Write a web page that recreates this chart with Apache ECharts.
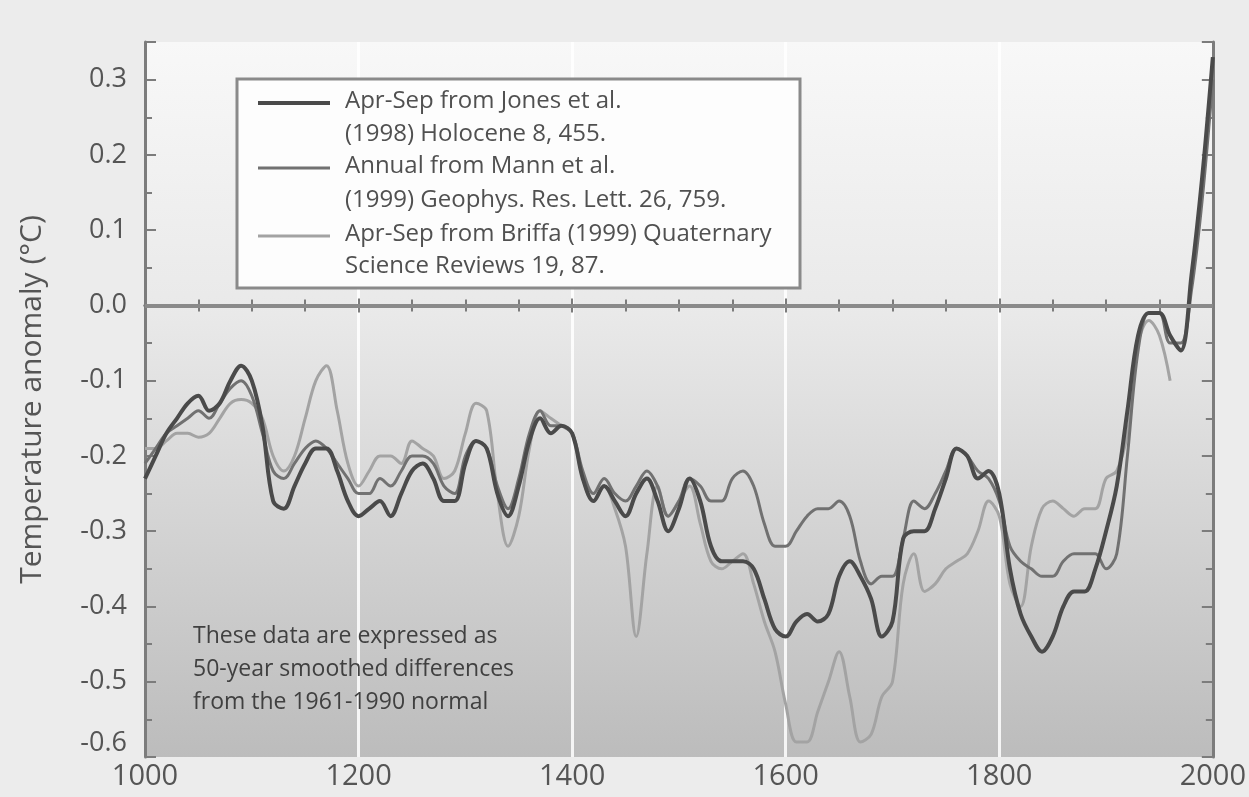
<!DOCTYPE html>
<html>
<head>
<meta charset="utf-8">
<title>Temperature anomaly reconstructions</title>
<script src="https://cdn.jsdelivr.net/npm/echarts@6/dist/echarts.min.js"></script>
<style>
  html, body { margin: 0; padding: 0; background: #ececec; }
  #main { width: 1249px; height: 797px; }
</style>
</head>
<body>
<div id="main"></div>
<script>
// years, every 10 years
const years = [
  1000, 1010, 1020, 1030, 1040, 1050, 1060, 1070, 1080, 1090,
  1100, 1110, 1120, 1130, 1140, 1150, 1160, 1170, 1180, 1190,
  1200, 1210, 1220, 1230, 1240, 1250, 1260, 1270, 1280, 1290,
  1300, 1310, 1320, 1330, 1340, 1350, 1360, 1370, 1380, 1390,
  1400, 1410, 1420, 1430, 1440, 1450, 1460, 1470, 1480, 1490,
  1500, 1510, 1520, 1530, 1540, 1550, 1560, 1570, 1580, 1590,
  1600, 1610, 1620, 1630, 1640, 1650, 1660, 1670, 1680, 1690,
  1700, 1710, 1720, 1730, 1740, 1750, 1760, 1770, 1780, 1790,
  1800, 1810, 1820, 1830, 1840, 1850, 1860, 1870, 1880, 1890,
  1900, 1910, 1920, 1930, 1940, 1950, 1960, 1970, 1980, 1990,
  2000
];

// Apr-Sep, Jones et al. (1998)
const jones = [
  -0.23, -0.20, -0.17, -0.15, -0.13, -0.12, -0.14, -0.13, -0.10, -0.08,
  -0.10, -0.16, -0.26, -0.27, -0.24, -0.21, -0.19, -0.19, -0.22, -0.26,
  -0.28, -0.27, -0.26, -0.28, -0.25, -0.22, -0.21, -0.23, -0.26, -0.26,
  -0.21, -0.18, -0.19, -0.25, -0.28, -0.24, -0.18, -0.15, -0.17, -0.16,
  -0.17, -0.23, -0.26, -0.24, -0.26, -0.28, -0.25, -0.23, -0.26, -0.30,
  -0.27, -0.23, -0.26, -0.32, -0.34, -0.34, -0.34, -0.35, -0.39, -0.43,
  -0.44, -0.42, -0.41, -0.42, -0.41, -0.36, -0.34, -0.36, -0.39, -0.44,
  -0.42, -0.31, -0.30, -0.30, -0.27, -0.23, -0.19, -0.20, -0.23, -0.22,
  -0.25, -0.35, -0.41, -0.44, -0.46, -0.44, -0.40, -0.38, -0.38, -0.35,
  -0.30, -0.24, -0.14, -0.04, -0.01, -0.01, -0.04, -0.06, 0.04, 0.17,
  0.33
];

// Annual, Mann et al. (1999)
const mann = [
  -0.21, -0.19, -0.17, -0.16, -0.15, -0.14, -0.15, -0.13, -0.11, -0.10,
  -0.12, -0.17, -0.22, -0.23, -0.21, -0.19, -0.18, -0.19, -0.21, -0.23,
  -0.25, -0.25, -0.23, -0.24, -0.22, -0.20, -0.20, -0.21, -0.24, -0.25,
  -0.20, -0.18, -0.19, -0.24, -0.27, -0.23, -0.17, -0.14, -0.16, -0.16,
  -0.17, -0.22, -0.25, -0.23, -0.25, -0.26, -0.24, -0.22, -0.24, -0.28,
  -0.26, -0.23, -0.24, -0.26, -0.26, -0.23, -0.22, -0.24, -0.29, -0.32,
  -0.32, -0.30, -0.28, -0.27, -0.27, -0.26, -0.28, -0.34, -0.37, -0.36,
  -0.36, -0.31, -0.26, -0.27, -0.25, -0.22, -0.19, -0.20, -0.22, -0.23,
  -0.26, -0.32, -0.34, -0.35, -0.36, -0.36, -0.34, -0.33, -0.33, -0.33,
  -0.35, -0.33, -0.20, -0.06, -0.01, -0.01, -0.05, -0.05, 0.02, 0.14,
  0.30
];

// Apr-Sep, Briffa (1999)
const briffa = [
  -0.19, -0.19, -0.18, -0.17, -0.17, -0.175, -0.17, -0.15, -0.13, -0.125,
  -0.13, -0.15, -0.20, -0.22, -0.20, -0.15, -0.10, -0.08, -0.14, -0.21,
  -0.24, -0.22, -0.20, -0.20, -0.21, -0.18, -0.19, -0.20, -0.23, -0.22,
  -0.17, -0.13, -0.14, -0.25, -0.32, -0.28, -0.19, -0.14, -0.15, -0.16,
  -0.17, -0.23, -0.26, -0.24, -0.27, -0.32, -0.44, -0.33, -0.24, -0.28,
  -0.26, -0.24, -0.29, -0.34, -0.35, -0.34, -0.33, -0.37, -0.42, -0.46,
  -0.53, -0.58, -0.58, -0.54, -0.50, -0.46, -0.52, -0.58, -0.57, -0.52,
  -0.50, -0.37, -0.33, -0.38, -0.37, -0.35, -0.34, -0.33, -0.30, -0.26,
  -0.28, -0.37, -0.40, -0.32, -0.27, -0.26, -0.27, -0.28, -0.27, -0.27,
  -0.23, -0.22, -0.17, -0.05, -0.02, -0.04, -0.10, null, null, null,
  null
];

const xTicks = [1000, 1200, 1400, 1600, 1800, 2000];
const yTicks = [-0.6, -0.5, -0.4, -0.3, -0.2, -0.1, 0.0, 0.1, 0.2, 0.3];

const legendLines = [
  'Apr-Sep from Jones et al.',
  '(1998) Holocene 8, 455.',
  'Annual from Mann et al.',
  '(1999) Geophys. Res. Lett. 26, 759.',
  'Apr-Sep from Briffa (1999) Quaternary',
  'Science Reviews 19, 87.'
];
const noteLines = [
  'These data are expressed as',
  '50-year smoothed differences',
  'from the 1961-1990 normal'
];

const FONT = '"Open Sans", "Noto Sans", sans-serif';
const colors = { jones: '#4a4a4a', mann: '#717171', briffa: '#a3a3a3' };

function pairs(vals) {
  return years.map(function (y, i) { return [y, vals[i]]; });
}

var chart = echarts.init(document.getElementById('main'));

// legend box drawn by hand so the sample line sits on the first text line
var legendGraphic = [
  {
    type: 'rect',
    shape: { x: 237, y: 79, width: 563, height: 209 },
    style: { fill: '#fdfdfd', stroke: '#8a8a8a', lineWidth: 3 },
    z: 100
  }
];
var legendColors = [colors.jones, colors.mann, colors.briffa];
var legendWidths = [4, 3, 3];
var lineY = [101, 134, 166, 200, 234, 266];
lineY.forEach(function (y, i) {
  legendGraphic.push({
    type: 'text',
    x: 345, y: y,
    style: {
      text: legendLines[i], fill: '#505050', font: '24px ' + FONT,
      textVerticalAlign: 'middle'
    },
    z: 101
  });
  if (i % 2 === 0) {
    legendGraphic.push({
      type: 'line',
      shape: { x1: 258, y1: y + 2, x2: 330, y2: y + 2 },
      style: { stroke: legendColors[i / 2], lineWidth: legendWidths[i / 2] },
      z: 101
    });
  }
});
var noteY = [636, 669, 702];
noteY.forEach(function (y, i) {
  legendGraphic.push({
    type: 'text',
    x: 193, y: y,
    style: {
      text: noteLines[i], fill: '#404040', font: '23px ' + FONT,
      textVerticalAlign: 'middle'
    },
    z: 101
  });
});

var option = {
  backgroundColor: '#ececec',
  animation: false,
  grid: {
    left: 145, right: 36, top: 42, bottom: 40,
    show: true,
    borderWidth: 0,
    backgroundColor: new echarts.graphic.LinearGradient(0, 0, 0, 1, [
      { offset: 0, color: '#f8f8f8' },
      { offset: 0.38, color: '#e9e9e9' },
      { offset: 1, color: '#bcbcbc' }
    ])
  },
  xAxis: [
    {
      type: 'value',
      min: xTicks[0],
      max: xTicks[xTicks.length - 1],
      interval: 200,
      axisLine: { lineStyle: { color: '#7c7c7c', width: 3 } },
      axisTick: { inside: true, length: 7, lineStyle: { color: '#7c7c7c', width: 2 } },
      minorTick: { show: true, splitNumber: 4, length: 6, lineStyle: { color: '#7c7c7c', width: 2 } },
      axisLabel: {
        color: '#555', fontSize: 29, fontFamily: FONT, margin: 5,
        formatter: function (v) { return String(v); }
      },
      splitLine: { show: true, lineStyle: { color: 'rgba(255,255,255,0.85)', width: 3 } }
    },
    {
      type: 'value',
      position: 'top',
      min: xTicks[0],
      max: xTicks[xTicks.length - 1],
      interval: 200,
      axisLine: { lineStyle: { color: '#7c7c7c', width: 3 } },
      axisTick: { inside: true, length: 7, lineStyle: { color: '#7c7c7c', width: 2 } },
      minorTick: { show: true, splitNumber: 4, length: 6, lineStyle: { color: '#7c7c7c', width: 2 } },
      axisLabel: { show: false },
      splitLine: { show: false }
    }
  ],
  yAxis: [
    {
      type: 'value',
      min: yTicks[0],
      max: 0.35,
      interval: 0.1,
      name: 'Temperature anomaly (°C)',
      nameLocation: 'middle',
      nameGap: 98,
      nameTextStyle: { color: '#555', fontSize: 30, fontFamily: FONT },
      axisLine: { lineStyle: { color: '#7c7c7c', width: 3 } },
      axisTick: { inside: true, length: 11, lineStyle: { color: '#7c7c7c', width: 2 } },
      minorTick: { show: true, splitNumber: 2, length: 7, lineStyle: { color: '#7c7c7c', width: 2 } },
      axisLabel: {
        color: '#555', fontSize: 27, fontFamily: FONT, margin: 18,
        showMaxLabel: false,
        verticalAlignMinLabel: 'bottom',
        formatter: function (v) { return v.toFixed(1); }
      },
      splitLine: { show: false }
    },
    {
      type: 'value',
      position: 'right',
      min: yTicks[0],
      max: 0.35,
      interval: 0.1,
      axisLine: { lineStyle: { color: '#7c7c7c', width: 3 } },
      axisTick: { inside: true, length: 11, lineStyle: { color: '#7c7c7c', width: 2 } },
      minorTick: { show: true, splitNumber: 2, length: 7, lineStyle: { color: '#7c7c7c', width: 2 } },
      axisLabel: { show: false },
      splitLine: { show: false }
    }
  ],
  series: [
    {
      name: 'Apr-Sep from Briffa (1999) Quaternary Science Reviews 19, 87.',
      type: 'line',
      data: pairs(briffa),
      showSymbol: false,
      smooth: 0.35,
      connectNulls: false,
      lineStyle: { color: colors.briffa, width: 3 },
      itemStyle: { color: colors.briffa },
      z: 2,
      markLine: {
        silent: true,
        symbol: ['none', 'none'],
        label: { show: false },
        lineStyle: { color: '#8a8a8a', width: 4, type: 'solid' },
        data: [{ yAxis: 0 }]
      }
    },
    {
      name: 'Annual from Mann et al. (1999) Geophys. Res. Lett. 26, 759.',
      type: 'line',
      data: pairs(mann),
      showSymbol: false,
      smooth: 0.35,
      lineStyle: { color: colors.mann, width: 3 },
      itemStyle: { color: colors.mann },
      z: 3
    },
    {
      name: 'Apr-Sep from Jones et al. (1998) Holocene 8, 455.',
      type: 'line',
      data: pairs(jones),
      showSymbol: false,
      smooth: 0.35,
      lineStyle: { color: colors.jones, width: 4 },
      itemStyle: { color: colors.jones },
      z: 4
    }
  ],
  graphic: legendGraphic
};

chart.setOption(option);
</script>
</body>
</html>
